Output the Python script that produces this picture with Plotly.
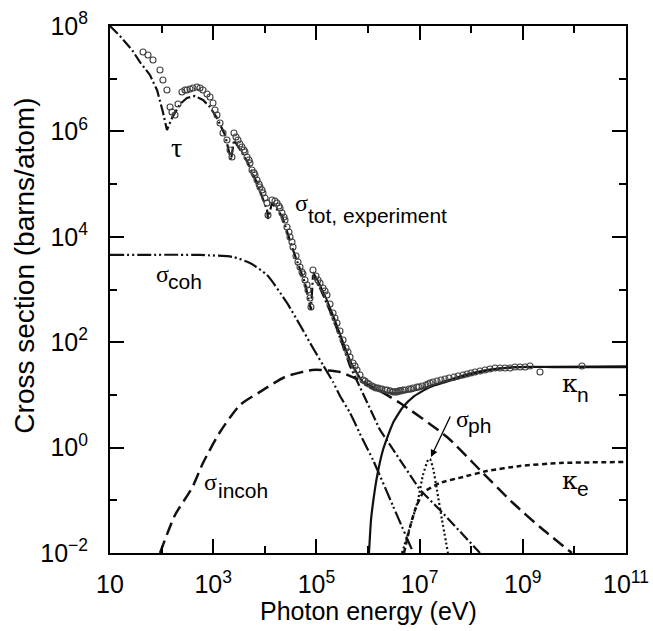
import plotly.graph_objects as go

# ---------------- data ----------------
# photoelectric (tau)
tau_E = [10, 15.6, 26.7, 38.1, 59.6, 81.5, 106, 127, 159, 228, 310, 444, 634, 867, 1186,
         1694, 2213, 2530, 4519, 7063, 11040, 11530, 13800, 21530, 35240, 60120, 78520,
         85900, 117500, 209900, 447700, 8.0e5, 1.71e6, 1.02e7, 2.48e7, 1.48e8]
tau_S = [1e8, 6.46e7, 3.51e7, 2.07e7, 1.17e7, 6.11e6, 2.33e6, 1.06e6, 1.79e6, 3.31e6, 4.31e6,
         4.70e6, 3.94e6, 2.90e6, 1.79e6, 8.55e5, 2.86e5, 6.87e5, 2.74e5, 1.05e5, 3.23e4,
         2.18e4, 4.38e4, 2.48e4, 5.62e3, 1.33e3, 408, 1.88e3, 1.07e3, 288, 35.3, 10.4,
         2.16, 0.157, 0.0655, 0.01]

# coherent scattering
coh_E = [10, 555, 2420, 5160, 11040, 26920, 48080, 85900, 134200, 209900, 2.87e5, 4.48e5,
         8.0e5, 1.25e6, 3.05e6, 7.45e6]
coh_S = [4.52e3, 4.52e3, 4.14e3, 3.18e3, 1.88e3, 555, 212, 77.6, 36.9, 17.6, 9.53, 4.54,
         1.39, 0.582, 0.078, 0.0104]

# incoherent scattering
inc_E = [93.1, 182, 388, 634, 1355, 3300, 8070, 24620, 82200, 2.87e5, 1.25e6, 4.17e6,
         3.40e7, 1.48e8, 6.46e8, 2.15e9, 8.97e9]
inc_S = [0.01, 0.0526, 0.171, 0.511, 1.98, 6.43, 11.4, 21.9, 29.7, 27.2, 14.1, 7.02,
         1.59, 0.376, 0.0889, 0.0311, 0.01]

# pair production, nuclear field
kn_E = [1.045e6, 1.143e6, 1.25e6, 1.49e6, 1.95e6, 3.05e6, 4.76e6, 7.45e6, 1.59e7, 6.93e7,
        2.31e8, 8.83e8, 3.85e9, 1e11]
kn_S = [0.01, 0.0423, 0.0889, 0.277, 0.90, 2.93, 5.89, 9.12, 14.1, 21.9, 29.7, 33.8, 33.8, 33.8]

# pair production, electron field
ke_E = [4.99e6, 6.52e6, 8.15e6, 1.16e7, 2.48e7, 6.93e7, 2.02e8, 8.83e8, 5.26e9, 1e11]
ke_S = [0.01, 0.0311, 0.0655, 0.138, 0.213, 0.277, 0.360, 0.448, 0.511, 0.533]

# photonuclear
ph_E = [4.56e6, 6.52e6, 9.31e6, 1.16e7, 1.456e7, 1.59e7, 1.82e7, 2.17e7, 2.72e7, 3.55e7]
ph_S = [0.01, 0.0311, 0.101, 0.302, 0.582, 0.608, 0.410, 0.157, 0.0423, 0.01]

# total (theory)
tot_E = [85900, 117500, 209900, 3.28e5, 4.48e5, 6.12e5, 8.0e5, 1.197e6, 1.71e6, 2.67e6,
         4.17e6, 7.45e6, 1.59e7, 6.93e7, 2.31e8, 8.83e8, 1e11]
tot_S = [2.15e3, 1.22e3, 328, 101, 45.9, 26.1, 17.6, 13.5, 11.9, 10.9, 10.9, 11.9, 14.8,
         23.5, 30.5, 34.0, 35.3]

# total, experiment
exp_E = [43.7, 54.5, 68.1, 93.1, 106, 127, 146, 159, 182, 208, 248, 284, 310, 355, 406, 485,
         555, 634, 759, 867, 991, 1084, 1186, 1355, 1549, 1849, 2118, 2312, 2530, 2767, 3027,
         3304, 3614, 3951, 4130, 4519, 4940, 5160, 5649, 6180, 6460, 7063, 7730, 8070, 8830,
         9226, 10090, 11040, 11530, 13800, 15780, 17220, 18840, 19720, 21530, 23550, 24620,
         26920, 29440, 30760, 33650, 35240, 40270, 43950, 48080, 52600, 54960, 60120, 65780,
         68710, 75160, 78520, 85900, 98200, 107400, 117500, 134200, 146900, 160300, 183500,
         209900, 229000, 250600, 286600, 328100, 374800, 409000, 447700, 511700, 560000,
         612300, 699700, 799800, 875000, 957000, 1.045e6, 1.197e6, 1.306e6, 1.429e6,
         1.563e6, 1.710e6, 1.866e6, 2.134e6, 2.333e6, 2.667e6, 3.048e6, 3.334e6, 3.648e6,
         3.99e6, 4.363e6, 4.76e6, 5.212e6, 6.233e6, 6.81e6, 7.447e6, 8.913e6, 9.73e6,
         1.114e7, 1.331e7, 1.456e7, 1.592e7, 1.82e7, 2.173e7, 2.60e7, 3.105e7, 3.72e7,
         4.645e7, 5.55e7, 6.934e7, 8.30e7, 9.908e7, 1.186e8, 1.483e8, 1.85e8, 2.313e8,
         2.89e8, 3.614e8, 4.52e8, 5.649e8, 7.06e8, 8.831e8, 1.104e9, 1.38e9, 2.153e9, 1.40e10]
exp_S = [3.21e7, 2.82e7, 2.26e7, 1.46e7, 9.44e6, 6.11e6, 2.90e6, 2.33e6, 2.05e6, 3.31e6,
         5.60e6, 6.11e6, 6.11e6, 6.38e6, 6.67e6, 6.97e6, 6.67e6, 6.11e6, 5.13e6, 4.50e6,
         3.46e6, 2.55e6, 2.05e6, 1.44e6, 9.33e5, 6.87e5, 4.44e5, 3.27e5, 9.33e5, 7.83e5,
         6.87e5, 5.77e5, 5.06e5, 4.44e5, 4.06e5, 3.27e5, 2.86e5, 2.51e5, 1.85e5, 1.63e5,
         1.49e5, 1.20e5, 1.00e5, 8.81e4, 7.73e4, 6.78e4, 5.45e4, 4.38e4, 2.59e4, 4.99e4,
         4.78e4, 4.38e4, 3.84e4, 3.51e4, 2.83e4, 2.38e4, 2.08e4, 1.53e4, 1.23e4, 9.91e3,
         7.96e3, 6.40e3, 4.33e3, 3.33e3, 2.67e3, 2.15e3, 1.97e3, 1.51e3, 1.22e3, 980, 690,
         466, 2.34e3, 1.80e3, 1.51e3, 1.33e3, 1.07e3, 938, 787, 531, 358, 288, 231, 163,
         110, 77.6, 65.2, 52.4, 40.3, 35.3, 29.7, 23.9, 19.2, 18.4, 16.8, 16.1, 14.8, 14.1,
         13.5, 13.5, 12.9, 12.9, 12.4, 12.4, 11.9, 11.4, 11.4, 11.4, 11.9, 11.9, 12.4, 12.4,
         12.9, 12.9, 13.5, 14.1, 14.1, 14.8, 15.4, 16.1, 16.8, 17.6, 18.4, 19.2, 20.0, 20.9,
         21.9, 22.9, 23.9, 25.0, 26.1, 27.2, 28.4, 29.7, 31.0, 32.4, 32.4, 32.4, 32.4, 33.8,
         33.8, 33.8, 35.3, 27.2, 35.3]

x_tick_vals = [1e1, 1e3, 1e5, 1e7, 1e9, 1e11]
x_tick_text = ["10", "10<sup>3</sup>", "10<sup>5</sup>", "10<sup>7</sup>", "10<sup>9</sup>", "10<sup>11</sup>"]
x_minor_vals = [1e2, 1e4, 1e6, 1e8, 1e10]
y_tick_vals = [1e-2, 1e0, 1e2, 1e4, 1e6, 1e8]
y_tick_text = ["10<sup>\u22122</sup>", "10<sup>0</sup>", "10<sup>2</sup>", "10<sup>4</sup>", "10<sup>6</sup>", "10<sup>8</sup>"]
y_minor_vals = [1e-1, 1e1, 1e3, 1e5, 1e7]

# ---------------- figure ----------------
fig = go.Figure()
LW = 2.2
K = "#111111"

fig.add_trace(go.Scatter(x=tau_E, y=tau_S, mode="lines",
                         line=dict(color=K, width=LW, dash="11px,3px,2px,3px")))
fig.add_trace(go.Scatter(x=coh_E, y=coh_S, mode="lines", line_shape="spline",
                         line=dict(color=K, width=LW, dash="14px,3px,2px,3px,2px,3px", smoothing=0.6)))
fig.add_trace(go.Scatter(x=inc_E, y=inc_S, mode="lines", line_shape="spline",
                         line=dict(color=K, width=LW + 0.3, dash="13px,6px", smoothing=0.6)))
fig.add_trace(go.Scatter(x=kn_E, y=kn_S, mode="lines", line_shape="spline",
                         line=dict(color=K, width=LW, smoothing=0.5)))
fig.add_trace(go.Scatter(x=ke_E, y=ke_S, mode="lines", line_shape="spline",
                         line=dict(color=K, width=LW + 0.3, dash="5px,3.5px", smoothing=0.5)))
fig.add_trace(go.Scatter(x=ph_E, y=ph_S, mode="lines", line_shape="spline",
                         line=dict(color=K, width=LW, dash="2px,2.5px", smoothing=0.4)))
fig.add_trace(go.Scatter(x=tot_E, y=tot_S, mode="lines", line_shape="spline",
                         line=dict(color=K, width=1.8, smoothing=0.4)))
fig.add_trace(go.Scatter(x=exp_E, y=exp_S, mode="markers",
                         marker=dict(symbol="circle-open", size=6, color="#404040",
                                     line=dict(width=1.1, color="#404040"))))

axis_common = dict(type="log", showline=True, linewidth=2, linecolor="black", mirror="ticks",
                   ticks="inside", ticklen=14, tickwidth=1.5, tickcolor="black",
                   showgrid=False, zeroline=False, ticklabeloverflow="allow",
                   tickfont=dict(family="Liberation Sans", size=25, color="black"))

fig.update_xaxes(range=[1, 11], tickmode="array", tickvals=x_tick_vals, ticktext=x_tick_text,
                 ticklabelstandoff=8,
                 minor=dict(tickmode="array", tickvals=x_minor_vals, ticks="inside", ticklen=7,
                            tickwidth=1.5, tickcolor="black", showgrid=False),
                 **axis_common)
fig.update_yaxes(range=[-2, 8], tickmode="array", tickvals=y_tick_vals, ticktext=y_tick_text,
                 ticklabelstandoff=15,
                 minor=dict(tickmode="array", tickvals=y_minor_vals, ticks="inside", ticklen=7,
                            tickwidth=1.5, tickcolor="black", showgrid=False),
                 **axis_common)

SIGMA = dict(family="Liberation Serif", size=24, color="black")
TAU = dict(family="Liberation Serif", size=28, color="black")
KAPPA = dict(family="DejaVu Serif", size=25, color="black")
SUB = dict(family="Liberation Sans", size=21, color="black")
ann = []

def glyph(text, lx, ly, font):
    ann.append(dict(x=lx, y=ly, xref="x", yref="y", text=text, showarrow=False,
                    font=font, xanchor="center", yanchor="middle"))

def sub(text, lx, ly):
    ann.append(dict(x=lx, y=ly, xref="x", yref="y", text=text, showarrow=False,
                    font=SUB, xanchor="left", yanchor="middle"))

glyph("\u03c4", 2.298, 5.704, TAU)
glyph("\u03c3", 4.702, 4.641, SIGMA); sub("tot, experiment", 4.80, 4.395)
glyph("\u03c3", 2.008, 3.294, SIGMA); sub("coh", 2.09, 3.161)
glyph("\u03c3", 2.938, -0.653, SIGMA); sub("incoh", 3.055, -0.805)
glyph("\u03ba", 9.905, 1.207, KAPPA); sub("n", 10.02, 1.017)
glyph("\u03ba", 9.905, -0.615, KAPPA); sub("e", 10.02, -0.767)
glyph("\u03c3", 7.822, 0.543, SIGMA); sub("ph", 7.90, 0.410)

# leader arrow for sigma_ph
ann.append(dict(x=7.221, y=-0.178, xref="x", yref="y", ax=7.609, ay=0.619, axref="x", ayref="y",
                text="", showarrow=True, arrowhead=2, arrowsize=1.1, arrowwidth=1.3,
                arrowcolor="black", standoff=0, startstandoff=0))

# axis titles
ann.append(dict(x=0.501, y=-0.110, xref="paper", yref="paper", text="Photon energy (eV)",
                showarrow=False, font=dict(family="Liberation Sans", size=25, color="black"),
                xanchor="center", yanchor="middle"))
ann.append(dict(x=-0.165, y=0.545, xref="paper", yref="paper", text="Cross section (barns/atom)",
                showarrow=False, textangle=-90,
                font=dict(family="Liberation Sans", size=28, color="black"),
                xanchor="center", yanchor="middle"))

fig.update_layout(width=653, height=631, margin=dict(l=110, r=27, t=26, b=78, autoexpand=False),
                  paper_bgcolor="white", plot_bgcolor="white", showlegend=False,
                  annotations=ann)

# remove the browser's default 8px body margin so the 653x631 figure fills the window exactly
fig.write_html("out.html", config={"displayModeBar": False},
               post_script="document.body.style.margin='0';document.body.style.overflow='hidden';")
